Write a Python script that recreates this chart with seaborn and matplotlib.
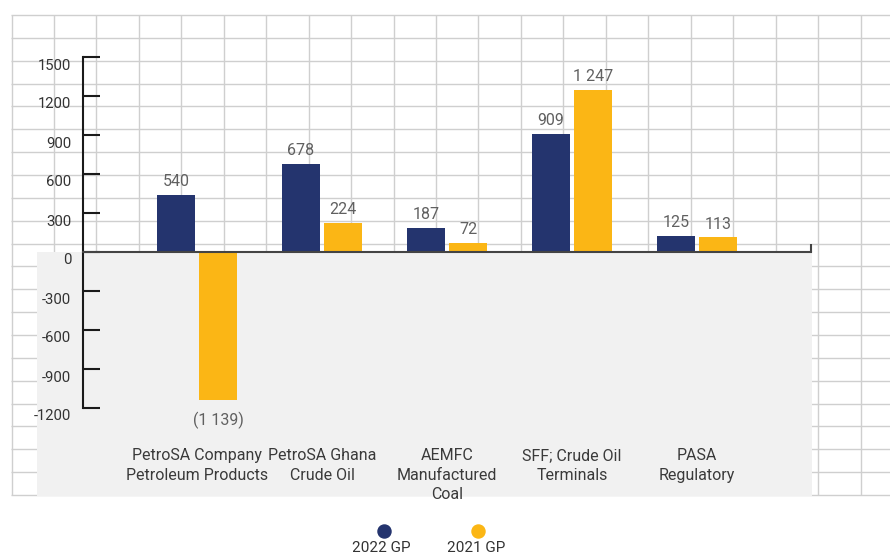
import matplotlib
matplotlib.use("Agg")
import matplotlib.pyplot as plt
import matplotlib.transforms as mtransforms
from matplotlib.patches import Rectangle
import seaborn as sns
import pandas as pd
import numpy as np

# ---------------- data ----------------
categories = ["PetroSA Company\nPetroleum Products", "PetroSA Ghana\nCrude Oil",
              "AEMFC\nManufactured\nCoal", "SFF; Crude Oil\nTerminals", "PASA\nRegulatory"]
series_names = ["2022 GP", "2021 GP"]
gp_2022 = [440, 678, 187, 909, 125]
gp_2021 = [-1139, 224, 72, 1247, 113]
labels_2022 = ["540", "678", "187", "909", "125"]
labels_2021 = ["(1 139)", "224", "72", "1 247", "113"]
y_ticks = [-1200, -900, -600, -300, 0, 300, 600, 900, 1200, 1500]
y_tick_labels = ["-1200", "-900", "-600", "-300", "0", "300", "600", "900", "1200", "1500"]
colors = ["#24346E", "#FBB615"]

df = pd.DataFrame({
    "category": categories * 2,
    "series": [series_names[0]] * len(categories) + [series_names[1]] * len(categories),
    "value": gp_2022 + gp_2021,
})

# ---------------- style ----------------
sns.set_theme(style="white")
plt.rcParams["font.family"] = ["Roboto", "DejaVu Sans"]

W, H = 890, 556
fig = plt.figure(figsize=(W / 100, H / 100), dpi=100)

# background grid (pixel coordinates)
bg = fig.add_axes([0, 0, 1, 1], zorder=0)
bg.set_xlim(0, W)
bg.set_ylim(H, 0)
bg.axis("off")
grid_c = "#cfcfcf"
gx = 11.5 + 42.45 * np.arange(21)
gy = 15 + (480 / 21) * np.arange(22)
bg.vlines(gx, 15, 495, color=grid_c, lw=1.0, zorder=1)
bg.hlines(gy, 11, W, color=grid_c, lw=1.0, zorder=1)
bg.add_patch(Rectangle((37, 252), 812 - 37, 496 - 252, facecolor="#f1f1f1",
                       edgecolor="none", zorder=2))

# main axes
ax = fig.add_axes([0, 0, 1, 1], zorder=2)
ax.set_facecolor("none")

sns.barplot(data=df, x="category", y="value", hue="series", hue_order=series_names,
            order=categories, palette=colors, saturation=1, width=0.672, gap=0.095,
            errorbar=None, linewidth=0, legend=False, ax=ax)

px_per_unit = 0.13
ax.set_xlim(-197 / 125, (W - 197) / 125)
ax.set_ylim(-(H - 252) / px_per_unit, 252 / px_per_unit)

x_left = (83 - 197) / 125
x_right = (811 - 197) / 125

for s in ["top", "right"]:
    ax.spines[s].set_visible(False)
ax.spines["left"].set_position(("data", x_left))
ax.spines["left"].set_bounds(-1200, 1500)
ax.spines["left"].set_color("#1a1a1a")
ax.spines["left"].set_linewidth(1.5)
ax.spines["bottom"].set_position(("data", 0))
ax.spines["bottom"].set_bounds(x_left, x_right)
ax.spines["bottom"].set_color("#444444")
ax.spines["bottom"].set_linewidth(1.5)

# y axis
ax.set_yticks(y_ticks)
ax.set_yticklabels(y_tick_labels)
ax.tick_params(axis="y", which="major", direction="in", length=12.2, width=1.5,
               color="#1a1a1a", pad=8.6, labelsize=10.7, labelcolor="#333333", left=True)
offset = mtransforms.ScaledTranslation(0, -7 / 100, fig.dpi_scale_trans)
for lbl in ax.get_yticklabels():
    lbl.set_transform(lbl.get_transform() + offset)

# x axis
ax.set_xticks(range(len(categories)))
ax.set_xticklabels(categories, linespacing=1.4)
ax.tick_params(axis="x", which="major", length=0, pad=141, labelsize=11.5,
               labelcolor="#3a3a3a")
ax.set_xticks([x_right], minor=True)
ax.tick_params(axis="x", which="minor", direction="in", length=6, width=1.5,
               color="#444444", bottom=True)
ax.set_xlabel("")
ax.set_ylabel("")

# value labels
lab_kw = dict(fontsize=11.5, color="#606060")
ax.bar_label(ax.containers[0], labels=labels_2022, padding=4, **lab_kw)
pos_2021 = [l if v >= 0 else "" for l, v in zip(labels_2021, gp_2021)]
neg_2021 = [l if v < 0 else "" for l, v in zip(labels_2021, gp_2021)]
ax.bar_label(ax.containers[1], labels=pos_2021, padding=4, **lab_kw)
ax.bar_label(ax.containers[1], labels=neg_2021, padding=8.5, **lab_kw)

# legend (markers above labels)
leg_x = [383.5, 478]
for name, c, lx in zip(series_names, colors, leg_x):
    bg.plot([lx], [531], marker="o", ms=9.4, color=c, linestyle="none", zorder=3)
    bg.text(lx - 2, 555, name, ha="center", va="bottom", fontsize=11, color="#333333",
            zorder=3)

fig.savefig("out.png", dpi=100)
